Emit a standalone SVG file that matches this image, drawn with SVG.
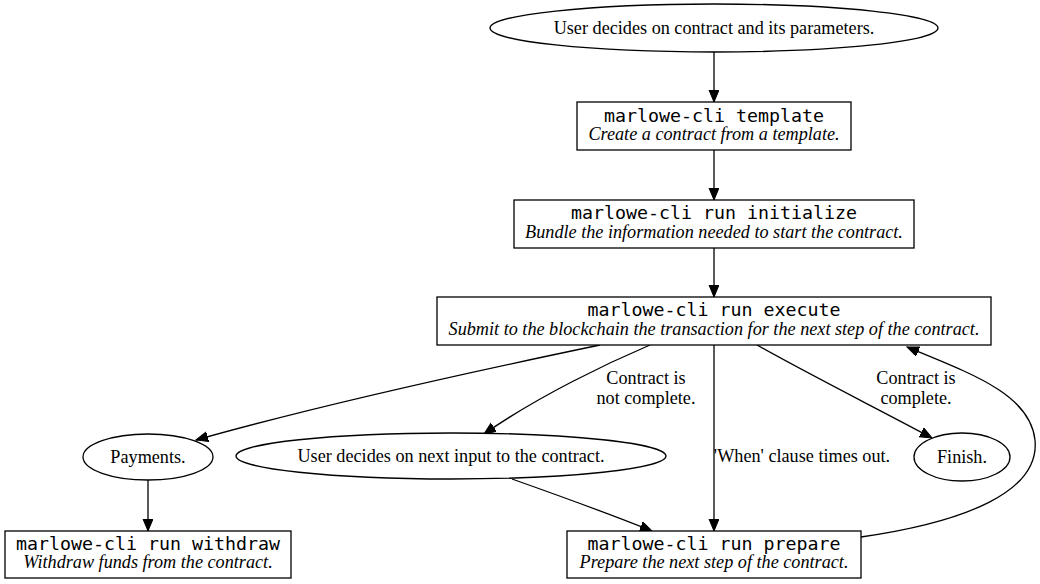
<svg xmlns="http://www.w3.org/2000/svg" width="1040" height="584" viewBox="0 0 1040 584">
<style>
.shape{fill:#fff;stroke:#000;stroke-width:1.3}
.edge{fill:none;stroke:#000;stroke-width:1.3}
.t{font-family:"Liberation Serif","Times New Roman",serif;font-size:18.2px;text-anchor:middle;fill:#000}
.i{font-family:"Liberation Serif","Times New Roman",serif;font-size:18.2px;font-style:italic;text-anchor:middle;fill:#000}
.m{font-family:"DejaVu Sans Mono",monospace;font-size:18.3px;text-anchor:middle;fill:#000}
</style>
<defs>
<marker id="ah" markerUnits="userSpaceOnUse" markerWidth="14" markerHeight="12" refX="12" refY="5" orient="auto">
<path d="M0,0 L12,5 L0,10 z" fill="#000" stroke="#000" stroke-width="1"/>
</marker>
</defs>
<rect width="1040" height="584" fill="#fff"/>
<g id="edges">
<path class="edge" d="M714,52 L714,102" marker-end="url(#ah)"/>
<path class="edge" d="M714,150 L714,200" marker-end="url(#ah)"/>
<path class="edge" d="M714,248 L714,297" marker-end="url(#ah)"/>
<path class="edge" d="M600,345 C480,370 320,405 196,440" marker-end="url(#ah)"/>
<path class="edge" d="M650,345 C610,362 540,395 484,434" marker-end="url(#ah)"/>
<path class="edge" d="M714,345 L714,531" marker-end="url(#ah)"/>
<path class="edge" d="M757,345 C810,375 880,410 932,438" marker-end="url(#ah)"/>
<path class="edge" d="M148,480 L148,531" marker-end="url(#ah)"/>
<path class="edge" d="M512,479 C560,496 610,514 652,531" marker-end="url(#ah)"/>
<path class="edge" d="M861,537 C965,522 1040,492 1035,440 C1030,395 975,375 907,347" marker-end="url(#ah)"/>
<text class="t" x="646" y="384">Contract is</text>
<text class="t" x="646" y="404">not complete.</text>
<text class="t" x="802" y="462">'When' clause times out.</text>
<text class="t" x="916" y="384">Contract is</text>
<text class="t" x="916" y="404">complete.</text>
</g>
<g id="start">
<ellipse class="shape" cx="714" cy="28" rx="224" ry="24"/>
<text class="t" x="714" y="34">User decides on contract and its parameters.</text>
</g>
<g id="template">
<rect class="shape" x="577" y="102" width="274" height="48"/>
<text class="m" x="714" y="122">marlowe-cli template</text>
<text class="i" x="714" y="140">Create a contract from a template.</text>
</g>
<g id="initialize">
<rect class="shape" x="514" y="200" width="400" height="48"/>
<text class="m" x="714" y="219">marlowe-cli run initialize</text>
<text class="i" x="714" y="238">Bundle the information needed to start the contract.</text>
</g>
<g id="execute">
<rect class="shape" x="437" y="297" width="554" height="48"/>
<text class="m" x="714" y="316">marlowe-cli run execute</text>
<text class="i" x="714" y="335">Submit to the blockchain the transaction for the next step of the contract.</text>
</g>
<g id="payments">
<ellipse class="shape" cx="148" cy="457" rx="65" ry="23"/>
<text class="t" x="148" y="463">Payments.</text>
</g>
<g id="nextinput">
<ellipse class="shape" cx="451" cy="456" rx="215" ry="23"/>
<text class="t" x="451" y="462">User decides on next input to the contract.</text>
</g>
<g id="finish">
<ellipse class="shape" cx="962" cy="457" rx="48" ry="24"/>
<text class="t" x="962" y="463">Finish.</text>
</g>
<g id="withdraw">
<rect class="shape" x="5" y="531" width="286" height="47"/>
<text class="m" x="148" y="550">marlowe-cli run withdraw</text>
<text class="i" x="148" y="568">Withdraw funds from the contract.</text>
</g>
<g id="prepare">
<rect class="shape" x="567" y="531" width="294" height="47"/>
<text class="m" x="714" y="550">marlowe-cli run prepare</text>
<text class="i" x="714" y="568">Prepare the next step of the contract.</text>
</g>
</svg>
